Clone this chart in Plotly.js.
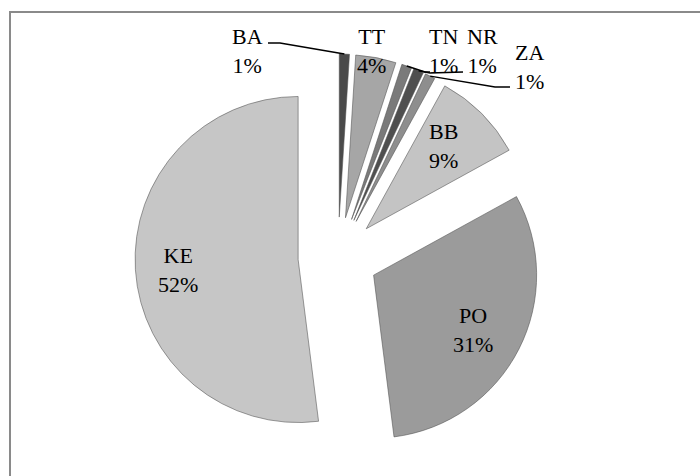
<!DOCTYPE html>
<html>
<head>
<meta charset="utf-8">
<script src="https://cdn.plot.ly/plotly-3.0.1.min.js"></script>
<style>
  html, body { margin: 0; padding: 0; background: #ffffff; }
  #chart { width: 700px; height: 476px; }
</style>
</head>
<body>
<div id="chart"></div>
<script>
// ---- data ----
const labels = ['BA', 'TT', 'TN', 'NR', 'ZA', 'BB', 'PO', 'KE'];
const values = [1, 4, 1, 1, 1, 9, 31, 52];

// ---- style / layout helpers (not data) ----
const sliceColors = ['#4a4a4a', '#a6a6a6', '#7a7a7a', '#4f4f4f', '#8e8e8e', '#c4c4c4', '#9b9b9b', '#c6c6c6'];
const pullAll = 0.245;
// label centres in pixels
const labelPos = [[247, 51], [371, 51], [444, 51], [482, 51], [529, 67], [443, 146], [473, 330], [178, 270]];
// leader-line elbows for outside labels (pixels): [elbow, end], null = no leader
const leaderEnds = [[[280, 43], [268, 43]], null, [[425, 72], [430, 72]], [[430, 73], [463, 72]], [[495, 87], [510, 87]], null, null, null];

const W = 700, H = 476;
const domX = [135 / W, 541 / W];
const domY = [(H - 460) / H, (H - 54) / H];

const total = values.reduce((a, b) => a + b, 0);
const pct = values.map(v => Math.round(v / total * 100));

// pie geometry (same formula Plotly uses)
const boxW = W * (domX[1] - domX[0]);
const boxH = H * (domY[1] - domY[0]);
const R = Math.min(boxW / 2, boxH / 2) / (1 + pullAll);
const cx = W * (domX[0] + domX[1]) / 2;
const cy = H * (1 - domY[0]) - boxH / 2;

const annotations = labels.map((lab, i) => ({
  text: lab + '<br>' + pct[i] + '%',
  x: labelPos[i][0] / W, y: 1 - labelPos[i][1] / H,
  xref: 'paper', yref: 'paper', xanchor: 'center', yanchor: 'middle',
  showarrow: false,
  font: { family: 'Liberation Serif', size: 22, color: '#000000' }
}));

const shapes = [];
let cum = 0;
values.forEach((v, i) => {
  const mid = 2 * Math.PI * (cum + v / 2) / total;
  cum += v;
  if (!leaderEnds[i]) return;
  const rr = R * (1 + pullAll);
  const px = cx + rr * Math.sin(mid);
  const py = cy - rr * Math.cos(mid);
  const e = leaderEnds[i];
  const toP = (x, y) => (x / W).toFixed(5) + ',' + (1 - y / H).toFixed(5);
  shapes.push({
    type: 'path', xref: 'paper', yref: 'paper',
    path: 'M' + toP(px, py) + ' L' + toP(e[0][0], e[0][1]) + ' L' + toP(e[1][0], e[1][1]),
    line: { color: '#000000', width: 1.5 }
  });
});
// chart frame (left and top edges visible)
shapes.push({
  type: 'rect', xref: 'paper', yref: 'paper',
  x0: 10 / W, x1: 1.05, y0: -0.05, y1: 1 - 12 / H,
  line: { color: '#8a8a8a', width: 2 }, layer: 'below'
});

const trace = {
  type: 'pie',
  labels: labels,
  values: values,
  sort: false,
  direction: 'clockwise',
  rotation: 0,
  pull: values.map(() => pullAll),
  textinfo: 'none',
  hoverinfo: 'label+percent',
  marker: { colors: sliceColors, line: { color: 'rgba(80,80,80,0.55)', width: 1 } },
  domain: { x: domX, y: domY },
  showlegend: false
};

const layout = {
  width: W, height: H,
  margin: { l: 0, r: 0, t: 0, b: 0 },
  paper_bgcolor: '#ffffff',
  font: { family: 'Liberation Serif' },
  showlegend: false,
  annotations: annotations,
  shapes: shapes
};

Plotly.newPlot('chart', [trace], layout, { displayModeBar: false, staticPlot: true });
</script>
</body>
</html>
